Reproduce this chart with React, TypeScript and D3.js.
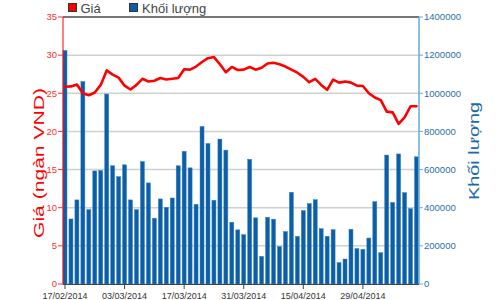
import React from "react";
import * as d3 from "d3";

const dates = [
  "17/02/2014","18/02/2014","19/02/2014","20/02/2014","21/02/2014",
  "24/02/2014","25/02/2014","26/02/2014","27/02/2014","28/02/2014",
  "03/03/2014","04/03/2014","05/03/2014","06/03/2014","07/03/2014",
  "10/03/2014","11/03/2014","12/03/2014","13/03/2014","14/03/2014",
  "17/03/2014","18/03/2014","19/03/2014","20/03/2014","21/03/2014",
  "24/03/2014","25/03/2014","26/03/2014","27/03/2014","28/03/2014",
  "31/03/2014","01/04/2014","02/04/2014","03/04/2014","04/04/2014",
  "07/04/2014","08/04/2014","09/04/2014","11/04/2014","14/04/2014",
  "15/04/2014","16/04/2014","17/04/2014","18/04/2014","21/04/2014",
  "22/04/2014","23/04/2014","24/04/2014","25/04/2014","28/04/2014",
  "29/04/2014","02/05/2014","05/05/2014","06/05/2014","07/05/2014",
  "08/05/2014","09/05/2014","12/05/2014","13/05/2014","14/05/2014",
];

const prices = [
  25.85, 25.9, 26.15, 25.0, 24.75, 25.1, 26.1, 28.0, 27.45, 27.05,
  26.0, 25.5, 26.1, 26.9, 26.55, 26.65, 27.0, 26.8, 26.9, 27.0,
  28.15, 28.1, 28.5, 29.1, 29.6, 29.75, 28.8, 27.75, 28.45, 28.05,
  28.1, 28.45, 28.1, 28.35, 28.9, 29.0, 28.8, 28.5, 28.1, 27.7,
  27.15, 26.45, 26.9, 26.1, 25.45, 26.8, 26.4, 26.55, 26.4, 26.0,
  25.95, 25.0, 24.45, 24.1, 22.6, 22.5, 21.0, 21.85, 23.3, 23.3,
];

const volumes = [
  1225000, 341000, 441000, 1062000, 390000, 593000, 595000, 996000, 620000, 563000,
  625000, 441000, 390000, 642000, 530000, 345000, 446000, 402000, 451000, 620000,
  696000, 609000, 418000, 826000, 737000, 439000, 760000, 702000, 324000, 284000,
  259000, 654000, 347000, 145000, 350000, 340000, 196000, 275000, 481000, 250000,
  385000, 422000, 442000, 290000, 250000, 285000, 112000, 131000, 287000, 186000,
  182000, 241000, 432000, 164000, 676000, 428000, 682000, 479000, 395000, 667000,
];

const xTickLabels = ["17/02/2014", "03/03/2014", "17/03/2014", "31/03/2014", "15/04/2014", "29/04/2014"];
const priceTicks = [0, 5, 10, 15, 20, 25, 30, 35];
const volumeTicks = [0, 200000, 400000, 600000, 800000, 1000000, 1200000, 1400000];

const W = 500, H = 300;
const L = 63, R = 419, T = 17, B = 284;
const FONT = "'Liberation Sans', Arial, sans-serif";

export default function App() {
  const x = d3.scaleBand<string>().domain(dates).range([L, 418.5]).paddingInner(0.33).paddingOuter(0);
  const yP = d3.scaleLinear().domain([0, 35]).range([B, T]);
  const yV = d3.scaleLinear().domain([0, 1400000]).range([B, T]);
  const cx = (d: string) => (x(d) as number) + x.bandwidth() / 2;

  const line = d3.line<number>()
    .x((_, i) => cx(dates[i]))
    .y((p) => yP(p))
    .curve(d3.curveLinear);

  return (
    <svg width={W} height={H} style={{ position: "absolute", left: 0, top: 0, background: "#fff" }} fontFamily={FONT}>
      {/* grid */}
      {priceTicks.map((t) => (
        <line key={"g" + t} x1={L} x2={R} y1={yP(t)} y2={yP(t)}
          stroke={t === 35 ? "#777" : "#d0d0d0"} strokeWidth={t === 35 ? 2 : 1.5} />
      ))}
      {/* bars */}
      {volumes.map((v, i) => (
        <rect key={"b" + i} x={x(dates[i])} y={yV(v)} width={x.bandwidth()} height={B - yV(v)}
          fill="#0b5ea8" stroke="#3a82c2" strokeWidth={0.5} />
      ))}
      {/* price line */}
      <path d={line(prices) || ""} fill="none" stroke="#ff0000" strokeWidth={2.6} strokeLinejoin="round" strokeLinecap="round" />
      {/* x axis */}
      <line x1={L} x2={R} y1={B + 0.5} y2={B + 0.5} stroke="#444" strokeWidth={1} />
      {xTickLabels.map((lab) => (
        <g key={"x" + lab}>
          <line x1={cx(lab)} x2={cx(lab)} y1={B} y2={B + 5} stroke="#444" strokeWidth={1} />
          <text x={cx(lab)} y={299} textAnchor="middle" fontSize={9} fill="#333">{lab}</text>
        </g>
      ))}
      {/* left axis */}
      <line x1={L} x2={L} y1={T} y2={B} stroke="#ff0000" strokeWidth={1} />
      {priceTicks.map((t) => (
        <g key={"l" + t}>
          <line x1={L - 5} x2={L} y1={yP(t)} y2={yP(t)} stroke="#ff3030" strokeWidth={1} />
          <text x={L - 6} y={yP(t) + 3.3} textAnchor="end" fontSize={9.5} fill="#ff3030">{t}</text>
        </g>
      ))}
      {/* right axis */}
      <line x1={R} x2={R} y1={T} y2={B} stroke="#6aaad6" strokeWidth={1.5} />
      {volumeTicks.map((t) => (
        <g key={"r" + t}>
          <line x1={R} x2={R + 4} y1={yV(t)} y2={yV(t)} stroke="#6aaad6" strokeWidth={1} />
          <text x={R + 5} y={yV(t) + 3.3} textAnchor="start" fontSize={9.5} fill="#2a6fa8">{t}</text>
        </g>
      ))}
      {/* axis titles */}
      <text transform="translate(44,163) rotate(-90)" textAnchor="middle" fontSize={15} fill="#ff0000"
        textLength={150} lengthAdjust="spacingAndGlyphs">Giá (ngàn VND)</text>
      <text transform="translate(479,151) rotate(-90)" textAnchor="middle" fontSize={14} fill="#1b6aa5"
        textLength={98} lengthAdjust="spacingAndGlyphs">Khối lượng</text>
      {/* legend */}
      <rect x={68.5} y={3.5} width={8} height={8} fill="#ff0000" stroke="#333" strokeWidth={1} />
      <text x={80.5} y={13} fontSize={13} fill="#444">Giá</text>
      <rect x={129.5} y={3.5} width={8} height={8} fill="#0b5ea8" stroke="#333" strokeWidth={1} />
      <text x={142} y={13} fontSize={13} fill="#444">Khối lượng</text>
    </svg>
  );
}
